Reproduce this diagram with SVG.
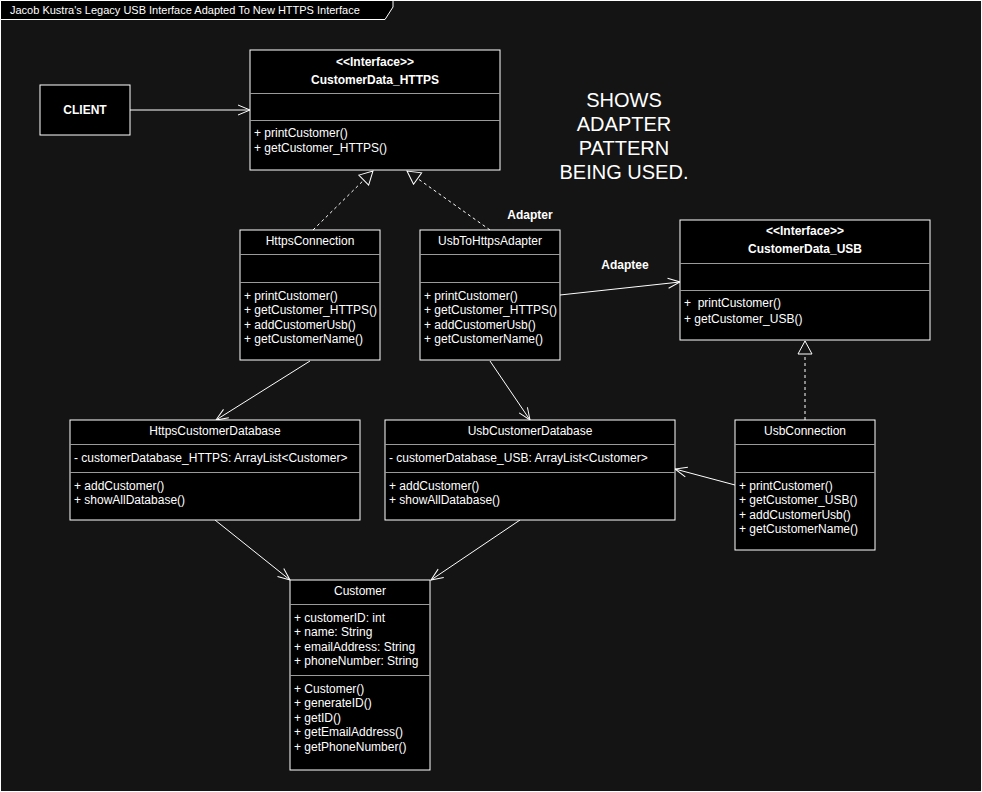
<svg xmlns="http://www.w3.org/2000/svg" width="982" height="792" viewBox="0 0 982 792">
  <style>
    text { font-family: "Liberation Sans", Arial, Helvetica, sans-serif; fill: #ffffff; font-size: 12px; }
    .c { text-anchor: middle; }
    .b { font-weight: bold; }
    .box { fill: #000000; stroke: #ffffff; stroke-width: 1; }
    .sep { stroke: #9a9a9a; stroke-width: 1; }
    .edge { fill: none; stroke: #ffffff; stroke-width: 1; }
    .dash { stroke-dasharray: 3 3; }
    .big { font-size: 20px; }
    .title { font-size: 11px; }
  </style>
  <defs>
    <marker id="open" markerUnits="userSpaceOnUse" markerWidth="14" markerHeight="12" viewBox="0 0 14 12" refX="13" refY="6" orient="auto">
      <path d="M1,1 L13,6 L1,11" fill="none" stroke="#ffffff" stroke-width="1"/>
    </marker>
    <marker id="realize" markerUnits="userSpaceOnUse" markerWidth="16" markerHeight="16" viewBox="0 0 16 16" refX="14" refY="8" orient="auto">
      <path d="M1,1 L14,8 L1,15 Z" fill="#141414" stroke="#ffffff" stroke-width="1"/>
    </marker>
  </defs>

  <!-- canvas and frame -->
  <rect x="0" y="0" width="982" height="792" fill="#141414"/>
  <rect x="0.5" y="0.5" width="981" height="791" fill="none" stroke="#ffffff"/>
  <g id="frame-title">
    <path d="M0.5,0.5 L393,0.5 L393,7 L385,19.5 L0.5,19.5 Z" fill="#000000" stroke="#ffffff"/>
    <text class="title" x="10" y="14">Jacob Kustra's Legacy USB Interface Adapted To New HTTPS Interface</text>
  </g>

  <!-- connectors -->
  <g id="connectors">
    <line class="edge" x1="130" y1="110" x2="250" y2="110" marker-end="url(#open)"/>
    <line class="edge dash" x1="313" y1="230" x2="373" y2="171" marker-end="url(#realize)"/>
    <line class="edge dash" x1="490" y1="230" x2="407" y2="171" marker-end="url(#realize)"/>
    <line class="edge" x1="560" y1="295" x2="680" y2="282" marker-end="url(#open)"/>
    <line class="edge dash" x1="805" y1="420" x2="805" y2="341" marker-end="url(#realize)"/>
    <line class="edge" x1="310" y1="361" x2="216" y2="420" marker-end="url(#open)"/>
    <line class="edge" x1="490" y1="361" x2="530" y2="420" marker-end="url(#open)"/>
    <line class="edge" x1="735" y1="485" x2="675" y2="469" marker-end="url(#open)"/>
    <line class="edge" x1="215" y1="520" x2="290" y2="580" marker-end="url(#open)"/>
    <line class="edge" x1="520" y1="520" x2="431" y2="580" marker-end="url(#open)"/>
  </g>

  <!-- labels -->
  <g id="note">
    <text class="c big" x="624" y="107">SHOWS</text>
    <text class="c big" x="624" y="131">ADAPTER</text>
    <text class="c big" x="624" y="155">PATTERN</text>
    <text class="c big" x="624" y="179">BEING USED.</text>
  </g>
  <g id="label-adapter"><text class="c b" x="530" y="219">Adapter</text></g>
  <g id="label-adaptee"><text class="c b" x="625" y="269">Adaptee</text></g>

  <!-- client -->
  <g id="client">
    <rect class="box" x="40" y="85" width="90" height="50"/>
    <text class="c b" x="85" y="114">CLIENT</text>
  </g>

  <!-- CustomerData_HTTPS interface -->
  <g id="customerdata-https">
    <rect class="box" x="250" y="50" width="250" height="120"/>
    <text class="c b" x="375" y="66">&lt;&lt;Interface&gt;&gt;</text>
    <text class="c b" x="375" y="84">CustomerData_HTTPS</text>
    <line class="sep" x1="250" y1="93.5" x2="500" y2="93.5"/>
    <line class="sep" x1="250" y1="120.5" x2="500" y2="120.5"/>
    <text x="254" y="137">+ printCustomer()</text>
    <text x="254" y="152">+ getCustomer_HTTPS()</text>
  </g>

  <!-- HttpsConnection -->
  <g id="https-connection">
    <rect class="box" x="240" y="230" width="140" height="130"/>
    <text class="c" x="310" y="245">HttpsConnection</text>
    <line class="sep" x1="240" y1="254.5" x2="380" y2="254.5"/>
    <line class="sep" x1="240" y1="282.5" x2="380" y2="282.5"/>
    <text x="244" y="300">+ printCustomer()</text>
    <text x="244" y="314">+ getCustomer_HTTPS()</text>
    <text x="244" y="329">+ addCustomerUsb()</text>
    <text x="244" y="343">+ getCustomerName()</text>
  </g>

  <!-- UsbToHttpsAdapter -->
  <g id="usb-to-https-adapter">
    <rect class="box" x="420" y="230" width="140" height="130"/>
    <text class="c" x="490" y="245">UsbToHttpsAdapter</text>
    <line class="sep" x1="420" y1="254.5" x2="560" y2="254.5"/>
    <line class="sep" x1="420" y1="282.5" x2="560" y2="282.5"/>
    <text x="424" y="300">+ printCustomer()</text>
    <text x="424" y="314">+ getCustomer_HTTPS()</text>
    <text x="424" y="329">+ addCustomerUsb()</text>
    <text x="424" y="343">+ getCustomerName()</text>
  </g>

  <!-- CustomerData_USB interface -->
  <g id="customerdata-usb">
    <rect class="box" x="680" y="220" width="250" height="120"/>
    <text class="c b" x="805" y="235">&lt;&lt;Interface&gt;&gt;</text>
    <text class="c b" x="805" y="253">CustomerData_USB</text>
    <line class="sep" x1="680" y1="263.5" x2="930" y2="263.5"/>
    <line class="sep" x1="680" y1="290.5" x2="930" y2="290.5"/>
    <text x="684" y="307" xml:space="preserve">+  printCustomer()</text>
    <text x="684" y="323">+ getCustomer_USB()</text>
  </g>

  <!-- HttpsCustomerDatabase -->
  <g id="https-customer-database">
    <rect class="box" x="70" y="420" width="290" height="100"/>
    <text class="c" x="215" y="435">HttpsCustomerDatabase</text>
    <line class="sep" x1="70" y1="444.5" x2="360" y2="444.5"/>
    <text x="74" y="462">- customerDatabase_HTTPS: ArrayList&lt;Customer&gt;</text>
    <line class="sep" x1="70" y1="472.5" x2="360" y2="472.5"/>
    <text x="74" y="490">+ addCustomer()</text>
    <text x="74" y="504">+ showAllDatabase()</text>
  </g>

  <!-- UsbCustomerDatabase -->
  <g id="usb-customer-database">
    <rect class="box" x="385" y="420" width="290" height="100"/>
    <text class="c" x="530" y="435">UsbCustomerDatabase</text>
    <line class="sep" x1="385" y1="444.5" x2="675" y2="444.5"/>
    <text x="389" y="462">- customerDatabase_USB: ArrayList&lt;Customer&gt;</text>
    <line class="sep" x1="385" y1="472.5" x2="675" y2="472.5"/>
    <text x="389" y="490">+ addCustomer()</text>
    <text x="389" y="504">+ showAllDatabase()</text>
  </g>

  <!-- UsbConnection -->
  <g id="usb-connection">
    <rect class="box" x="735" y="420" width="140" height="130"/>
    <text class="c" x="805" y="435">UsbConnection</text>
    <line class="sep" x1="735" y1="444.5" x2="875" y2="444.5"/>
    <line class="sep" x1="735" y1="472.5" x2="875" y2="472.5"/>
    <text x="739" y="490">+ printCustomer()</text>
    <text x="739" y="504">+ getCustomer_USB()</text>
    <text x="739" y="519">+ addCustomerUsb()</text>
    <text x="739" y="533">+ getCustomerName()</text>
  </g>

  <!-- Customer -->
  <g id="customer">
    <rect class="box" x="290" y="580" width="140" height="190"/>
    <text class="c" x="360" y="595">Customer</text>
    <line class="sep" x1="290" y1="604.5" x2="430" y2="604.5"/>
    <text x="294" y="622">+ customerID: int</text>
    <text x="294" y="636">+ name: String</text>
    <text x="294" y="651">+ emailAddress: String</text>
    <text x="294" y="665">+ phoneNumber: String</text>
    <line class="sep" x1="290" y1="675.5" x2="430" y2="675.5"/>
    <text x="294" y="693">+ Customer()</text>
    <text x="294" y="707">+ generateID()</text>
    <text x="294" y="722">+ getID()</text>
    <text x="294" y="736">+ getEmailAddress()</text>
    <text x="294" y="751">+ getPhoneNumber()</text>
  </g>
</svg>
